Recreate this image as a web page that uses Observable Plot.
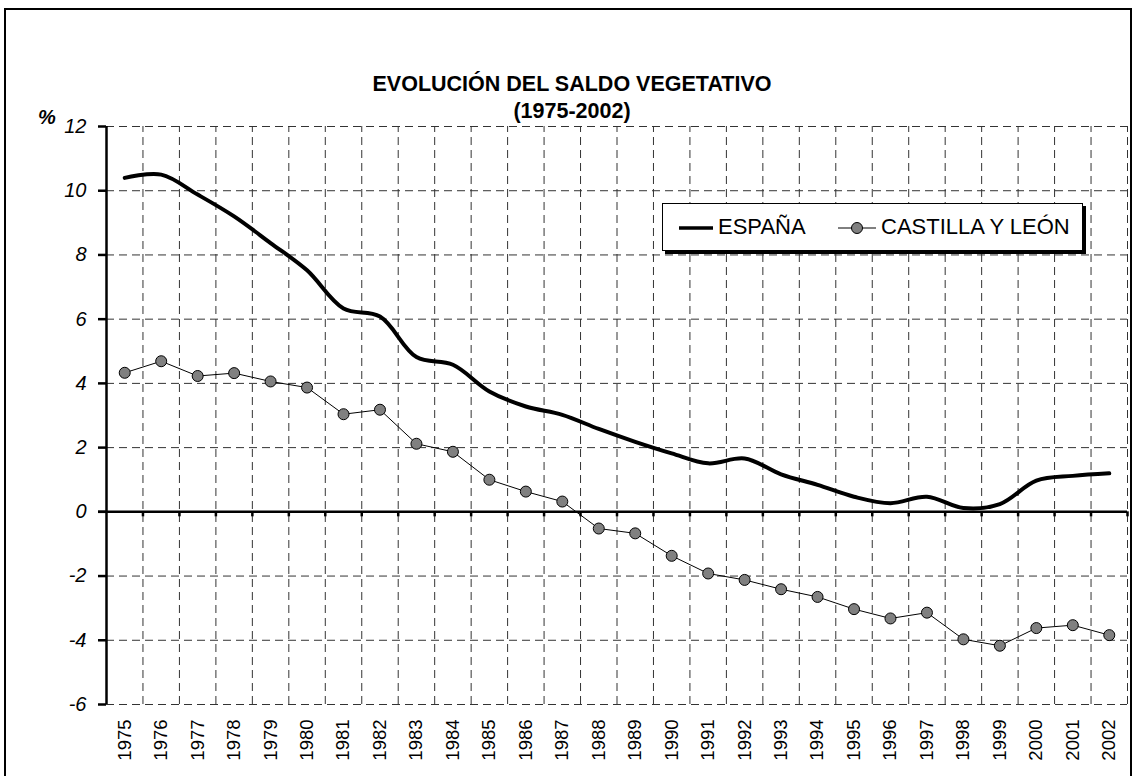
<!DOCTYPE html>
<html>
<head>
<meta charset="utf-8">
<script src="https://cdn.jsdelivr.net/npm/d3@7"></script>
<script src="https://cdn.jsdelivr.net/npm/@observablehq/plot@0.6"></script>
<style>
  html, body { margin: 0; padding: 0; background: #fff; overflow: hidden; }
  body { width: 1134px; height: 776px; position: relative; font-family: "Liberation Sans", Arial, sans-serif; }
  #frame { position: absolute; left: 4px; top: 8px; width: 1124px; height: 800px; border: 2px solid #000; pointer-events: none; }
  #chart { position: absolute; left: 0; top: 0; }
  .title { position: absolute; left: 0; width: 1144px; text-align: center; font-weight: bold; font-size: 21.5px; color: #000; }
  #pct { position: absolute; left: 38px; top: 106px; font-weight: bold; font-style: italic; font-size: 20px; }
  #legend { position: absolute; left: 662px; top: 203px; width: 419px; height: 46px; border: 1px solid #000; background: #fff; box-shadow: 3px 3px 0 #000; }
  #legend svg { position: absolute; left: 0; top: 0; }
  #legend span { position: absolute; top: 10px; font-size: 22px; color: #000; }
</style>
</head>
<body>
<div id="chart"></div>
<div class="title" style="top:72px">EVOLUCIÓN DEL SALDO VEGETATIVO</div>
<div class="title" style="top:99px">(1975-2002)</div>
<div id="pct">%</div>
<div id="legend">
  <svg width="420" height="46">
    <line x1="16" x2="50" y1="24" y2="24" stroke="#000" stroke-width="3.5"/>
    <line x1="175" x2="213" y1="24" y2="24" stroke="#000" stroke-width="1"/>
    <circle cx="194" cy="24" r="5.5" fill="#808080" stroke="#000" stroke-width="1"/>
  </svg>
  <span style="left:55px">ESPAÑA</span>
  <span style="left:218px">CASTILLA Y LEÓN</span>
</div>
<div id="frame"></div>
<script>
const years = [1975,1976,1977,1978,1979,1980,1981,1982,1983,1984,1985,1986,1987,1988,1989,1990,1991,1992,1993,1994,1995,1996,1997,1998,1999,2000,2001,2002];
const espana = [10.40,10.50,9.88,9.20,8.37,7.52,6.33,6.08,4.82,4.58,3.75,3.28,3.02,2.58,2.18,1.82,1.51,1.66,1.17,0.84,0.47,0.27,0.47,0.12,0.24,0.97,1.12,1.20];
const castilla = [4.33,4.69,4.23,4.32,4.06,3.87,3.04,3.18,2.12,1.87,1.00,0.63,0.32,-0.52,-0.67,-1.37,-1.92,-2.12,-2.41,-2.65,-3.03,-3.32,-3.14,-3.97,-4.17,-3.62,-3.53,-3.84];
const yTicks = [-6,-4,-2,0,2,4,6,8,10,12];

const dataEsp = years.map((y, i) => ({year: y, v: espana[i]}));
const dataCyl = years.map((y, i) => ({year: y, v: castilla[i]}));
const boundaries = years.map(y => y + 0.5);
const xStart = years[0] - 0.5;

const font = "Liberation Sans, Arial, sans-serif";
const grid = {stroke: "#333", strokeWidth: 1, strokeDasharray: "8,5"};

const chart = Plot.plot({
  width: 1134,
  height: 776,
  marginLeft: 106,
  marginRight: 7,
  marginTop: 126,
  marginBottom: 72,
  style: {fontFamily: font, background: "transparent", color: "#000"},
  x: {type: "linear", domain: [xStart, years[years.length - 1] + 0.5]},
  y: {domain: [-6, 12]},
  marks: [
    Plot.ruleY(yTicks.filter(d => d !== 0), grid),
    Plot.ruleX(boundaries, {...grid, y1: -6, y2: 12}),
    Plot.ruleY([0], {stroke: "#000", strokeWidth: 2.5, insetLeft: -8}),
    Plot.ruleX(boundaries, {y1: 0, y2: 0, insetBottom: -5, stroke: "#000", strokeWidth: 2.5}),
    Plot.ruleX([xStart], {y1: -6, y2: 12, stroke: "#000", strokeWidth: 2.5}),
    Plot.axisY({ticks: yTicks, tickSize: 8, tickPadding: 12, strokeWidth: 2.5, fontSize: 20, fontStyle: "italic", tickFormat: d => String(d), label: null}),
    Plot.axisX({ticks: years, tickSize: 0, tickPadding: 15, tickRotate: -90, fontSize: 18.5, tickFormat: d => String(d), label: null}),
    Plot.line(dataEsp, {x: "year", y: "v", curve: "catmull-rom", stroke: "#000", strokeWidth: 4}),
    Plot.line(dataCyl, {x: "year", y: "v", stroke: "#000", strokeWidth: 1}),
    Plot.dot(dataCyl, {x: "year", y: "v", r: 5.5, fill: "#808080", stroke: "#000", strokeWidth: 1})
  ]
});
document.getElementById("chart").appendChild(chart);
</script>
</body>
</html>
